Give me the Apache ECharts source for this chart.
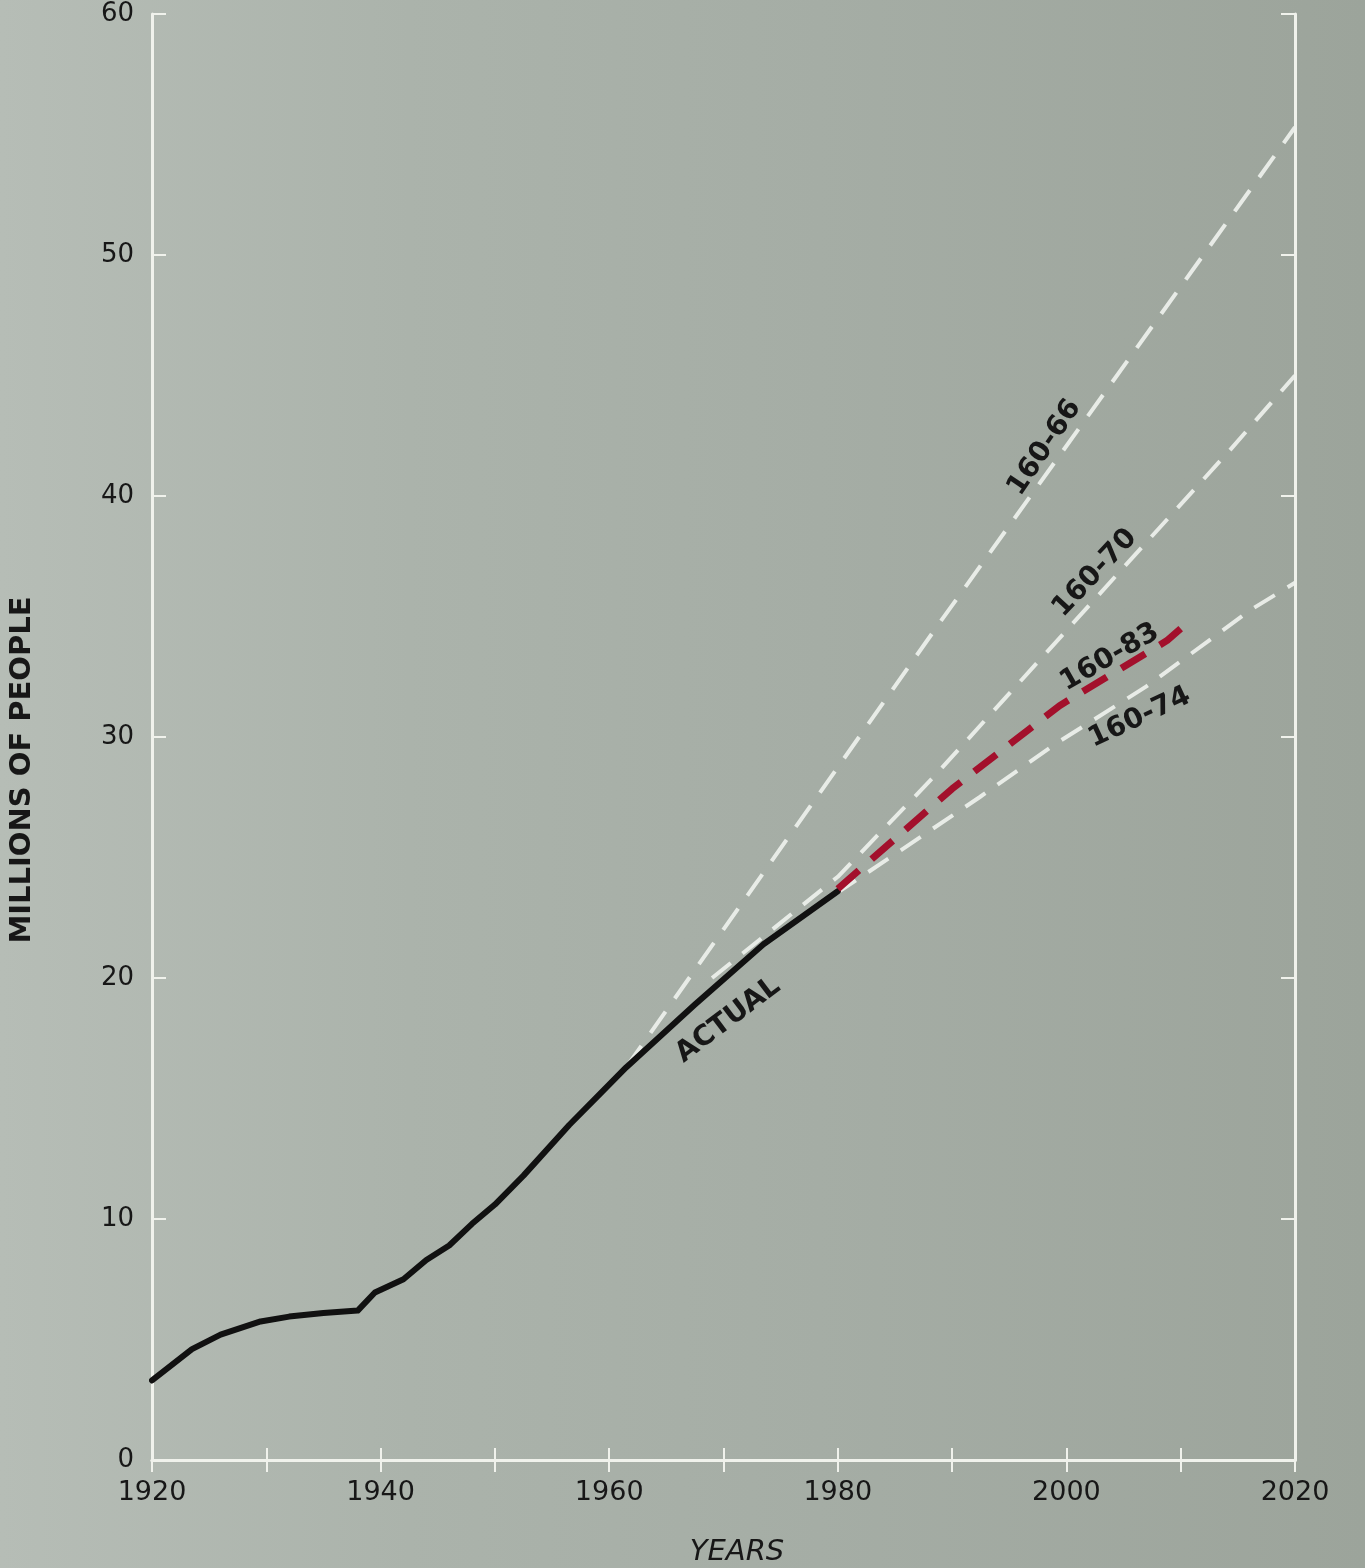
<!DOCTYPE html>
<html><head><meta charset="utf-8">
<script src="https://cdn.jsdelivr.net/npm/echarts@6/dist/echarts.min.js"></script>
<style>
html,body{margin:0;padding:0;}
body{width:1365px;height:1568px;background:linear-gradient(90deg,#b6bdb6 0%,#abb3ab 30%,#a5ada5 60%,#9ca49b 100%);}
#c{width:1365px;height:1568px;}
</style></head>
<body><div id="c"></div>
<script>
// ---- data ----
const yearLabels = [1920, 1940, 1960, 1980, 2000, 2020];
const valueTicks = [0, 10, 20, 30, 40, 50, 60];
const actualYears  = [1920, 1923.5, 1926, 1929.5, 1932, 1935, 1938, 1939.5, 1942, 1944, 1946, 1948, 1950, 1952.5, 1956.5, 1959, 1961.5, 1967.5, 1973.5, 1980];
const actualValues = [3.3, 4.6, 5.2, 5.75, 5.95, 6.1, 6.2, 6.95, 7.5, 8.3, 8.9, 9.8, 10.6, 11.8, 13.9, 15.1, 16.3, 18.9, 21.4, 23.6];
const p66Years  = [1961.5, 1989, 2020];
const p66Values = [16.3, 34.8, 55.3];
const p70Years  = [1969, 1980, 1988.5, 2014.3, 2020];
const p70Values = [20.0, 24.2, 28.4, 41.9, 45.0];
const p74Years  = [1977, 1985.2, 1992.4, 1999, 2007, 2016.2, 2020];
const p74Values = [22.6, 25.2, 27.5, 29.7, 32.1, 35.3, 36.4];
const p83Years  = [1980, 1990, 1999.4, 2008.8, 2010];
const p83Values = [23.7, 27.85, 31.3, 34.0, 34.5];
// annotation anchors (data space) and text
const annoText  = ['160-66', '160-70', '160-83', '160-74', 'ACTUAL'];
const annoYear  = [1998.1, 2002.5, 2003.8, 2006.4, 1970.4];
const annoValue = [42.0, 36.8, 33.3, 30.8, 18.25];
const annoAngle = [56, 47, 30, 25, 37];
const yTitle = 'MILLIONS OF PEOPLE';
const xTitle = 'YEARS';

const zip = (xs, ys) => xs.map((x, i) => [x, ys[i]]);

const FRAME = '#f0f2ec';
const TXT = '#171717';
const FONT = 'DejaVu Sans';

const chart = echarts.init(document.getElementById('c'), null, {renderer: 'canvas'});
const option = {
  backgroundColor: 'transparent',
  animation: false,
  grid: {left: 152, right: 70, top: 14, bottom: 108},
  xAxis: [{
    type: 'value', min: 1920, max: 2020, interval: 10, position: 'bottom',
    axisLine: {show: true, lineStyle: {color: FRAME, width: 3}},
    axisTick: {show: true, inside: true, length: 12, lineStyle: {color: FRAME, width: 2}},
    axisLabel: {color: TXT, fontFamily: FONT, fontSize: 27, margin: 19,
      formatter: v => yearLabels.includes(v) ? String(v) : ''},
    splitLine: {show: false}
  }, {
    type: 'value', min: 1920, max: 2020, interval: 10, position: 'top',
    axisLine: {show: true, lineStyle: {color: FRAME, width: 3}},
    axisTick: {show: true, inside: true, length: 12, lineStyle: {color: FRAME, width: 2}},
    axisLabel: {show: false}, splitLine: {show: false}
  }],
  yAxis: [{
    type: 'value', min: 0, max: 60, interval: 10, position: 'left',
    axisLine: {show: true, lineStyle: {color: FRAME, width: 3}},
    axisTick: {show: true, inside: true, length: 14, lineStyle: {color: FRAME, width: 2}},
    axisLabel: {color: TXT, fontFamily: FONT, fontSize: 26, margin: 18,
      formatter: v => valueTicks.includes(v) ? String(v) : ''},
    splitLine: {show: false}
  }, {
    type: 'value', min: 0, max: 60, interval: 10, position: 'right',
    axisLine: {show: true, lineStyle: {color: FRAME, width: 3}},
    axisTick: {show: true, inside: true, length: 14, lineStyle: {color: FRAME, width: 2}},
    axisLabel: {show: false}, splitLine: {show: false}
  }],
  series: [
    {name: '160-66', type: 'line', data: zip(p66Years, p66Values), symbol: 'none',
     lineStyle: {color: 'rgba(240,243,238,0.9)', width: 4, type: [26, 16]}},
    {name: '160-70', type: 'line', data: zip(p70Years, p70Values), symbol: 'none',
     lineStyle: {color: 'rgba(240,243,238,0.9)', width: 4, type: [24, 15]}},
    {name: '160-74', type: 'line', data: zip(p74Years, p74Values), symbol: 'none',
     lineStyle: {color: 'rgba(240,243,238,0.9)', width: 4, type: [24, 15]}},
    {name: 'ACTUAL', type: 'line', data: zip(actualYears, actualValues), symbol: 'none',
     lineStyle: {color: '#111111', width: 6, cap: 'round', join: 'round'}},
    {name: '160-83', type: 'line', data: zip(p83Years, p83Values), symbol: 'none',
     lineStyle: {color: '#a3102c', width: 7, type: [28, 17]}}
  ]
};
chart.setOption(option);

const graphics = annoText.map((t, i) => {
  const p = chart.convertToPixel({gridIndex: 0}, [annoYear[i], annoValue[i]]);
  return {
    type: 'text', x: p[0], y: p[1], rotation: annoAngle[i] * Math.PI / 180,
    style: {text: t, fill: TXT, font: 'bold 28px "' + FONT + '"', textAlign: 'center', textVerticalAlign: 'middle'},
    z: 100
  };
});
graphics.push({
  type: 'text', x: 22, y: 770, rotation: Math.PI / 2,
  style: {text: yTitle, fill: TXT, font: 'bold 29px "' + FONT + '"', textAlign: 'center', textVerticalAlign: 'middle'}
});
graphics.push({
  type: 'text', x: 737, y: 1552,
  style: {text: xTitle, fill: TXT, font: 'italic 29px "' + FONT + '"', textAlign: 'center', textVerticalAlign: 'middle'}
});
chart.setOption({graphic: graphics});
</script>
</body></html>
